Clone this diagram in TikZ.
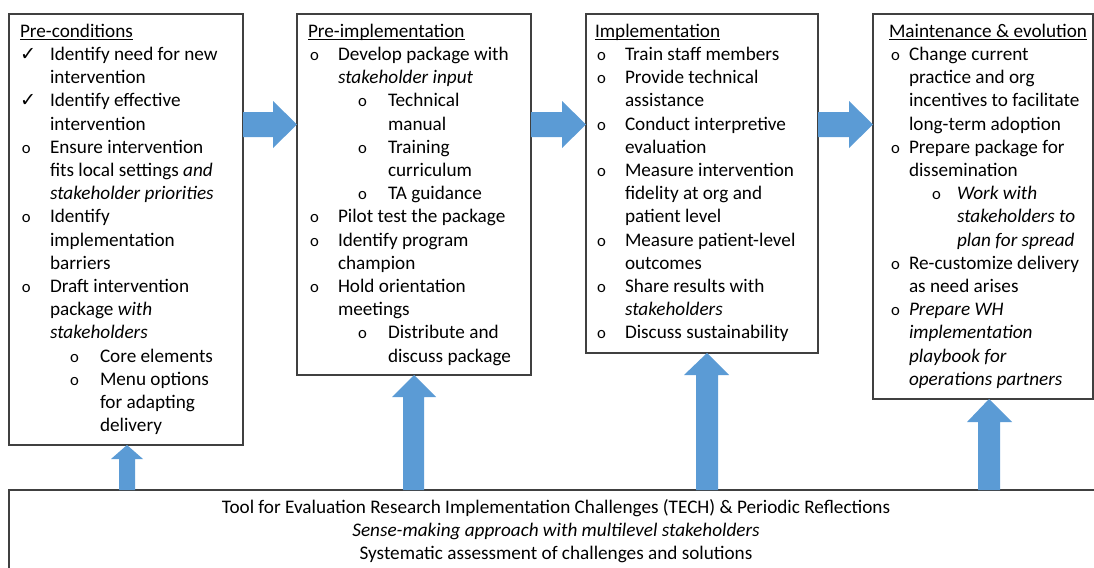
\documentclass[tikz,border=0pt]{standalone}
\usepackage{fontspec}
\setmainfont{Carlito}
\newfontfamily\symfont{DejaVu Sans}
\usetikzlibrary{calc,fit}
\definecolor{arrowblue}{HTML}{5B9BD5}
\definecolor{boxline}{HTML}{404040}
\newlength\indA \setlength\indA{22.5pt}
\newlength\indB \setlength\indB{37.5pt}
\newlength\indC \setlength\indC{60pt}
\newcommand{\mko}{{\fontsize{12.5}{12.5}\selectfont o}}
\newcommand{\bo}{\makebox[\indA][l]{\hspace{1.5pt}\mko}}
\newcommand{\bck}{\makebox[\indA][l]{\symfont ✓}}
\newcommand{\bc}{\hspace*{\indA}}
\newcommand{\sbo}{\hspace*{\indB}\makebox[\dimexpr\indC-\indB\relax][l]{\mko}}
\newcommand{\sbc}{\hspace*{\indC}}
\newcommand{\head}[1]{\strut\setbox0\hbox{#1}\rlap{\rule[-2.2pt]{\wd0}{0.7pt}}\box0}
\begin{document}
\begin{tikzpicture}[
    x=0.75pt, y=-0.75pt,
    stage/.style={draw=boxline, line width=1pt, inner sep=0pt, outer sep=0pt},
    txt/.style={anchor=north west, inner sep=0pt, outer sep=0pt, align=left,
        font=\fontsize{14.4}{17.4}\selectfont},
    flow/.style={fill=arrowblue},
    narrow/.code={\setlength\indA{15pt}\setlength\indB{32.25pt}\setlength\indC{51pt}}
]
\useasboundingbox (0,0) rectangle (1094,567);
\node[stage, fit={(9,14) (243,445)}] (pre) {};
\node[stage, fit={(297,14) (531,375)}] (preimp) {};
\node[stage, fit={(586,14) (818,353)}] (imp) {};
\node[stage, fit={(873,14) (1093,399)}] (maint) {};
\node[stage, fit={(9,490) (1110,590)}] (tech) {};

\node[txt] (pretxt) at ($(pre.north west)+(11,7)$) {\head{Pre-conditions}\\
    \bck Identify need for new\\
    \bc intervention\\
    \bck Identify effective\\
    \bc intervention\\
    \bo Ensure intervention\\
    \bc fits local settings \textit{and}\\
    \bc \textit{stakeholder priorities}\\
    \bo Identify\\
    \bc implementation\\
    \bc barriers\\
    \bo Draft intervention\\
    \bc package \textit{with}\\
    \bc \textit{stakeholders}\\
    \sbo Core elements\\
    \sbo Menu options\\
    \sbc for adapting\\
    \sbc delivery};
\node[txt] (preimptxt) at ($(preimp.north west)+(11,7)$) {\head{Pre-implementation}\\
    \bo Develop package with\\
    \bc \textit{stakeholder input}\\
    \sbo Technical\\
    \sbc manual\\
    \sbo Training\\
    \sbc curriculum\\
    \sbo TA guidance\\
    \bo Pilot test the package\\
    \bo Identify program\\
    \bc champion\\
    \bo Hold orientation\\
    \bc meetings\\
    \sbo Distribute and\\
    \sbc discuss package};
\node[txt] (imptxt) at ($(imp.north west)+(9,7)$) {\head{Implementation}\\
    \bo Train staff members\\
    \bo Provide technical\\
    \bc assistance\\
    \bo Conduct interpretive\\
    \bc evaluation\\
    \bo Measure intervention\\
    \bc fidelity at org and\\
    \bc patient level\\
    \bo Measure patient-level\\
    \bc outcomes\\
    \bo Share results with\\
    \bc \textit{stakeholders}\\
    \bo Discuss sustainability};
\node[txt, narrow] (mainttxt) at ($(maint.north west)+(16,7)$) {\head{Maintenance \& evolution}\\
    \bo Change current\\
    \bc practice and org\\
    \bc incentives to facilitate\\
    \bc long-term adoption\\
    \bo Prepare package for\\
    \bc dissemination\\
    \sbo \textit{Work with}\\
    \sbc \textit{stakeholders to}\\
    \sbc \textit{plan for spread}\\
    \bo Re-customize delivery\\
    \bc as need arises\\
    \bo \textit{Prepare WH}\\
    \bc \textit{implementation}\\
    \bc \textit{playbook for}\\
    \bc \textit{operations partners}};
\node[txt, anchor=north, align=center] (techtxt) at (556,497) {\strut Tool for Evaluation Research Implementation Challenges (TECH) \& Periodic Reflections\\
    \textit{Sense-making approach with multilevel stakeholders}\\
    Systematic assessment of challenges and solutions};

\fill[flow] (pre.east |- 0,112) -- ($(preimp.west |- 0,112)+(-24,0)$) -- ($(preimp.west |- 0,101)+(-24,0)$)
    -- (preimp.west |- 0,124.5) -- ($(preimp.west |- 0,148)+(-24,0)$) -- ($(preimp.west |- 0,137)+(-24,0)$)
    -- (pre.east |- 0,137) -- cycle;
\fill[flow] (preimp.east |- 0,112) -- ($(imp.west |- 0,112)+(-24,0)$) -- ($(imp.west |- 0,101)+(-24,0)$)
    -- (imp.west |- 0,124.5) -- ($(imp.west |- 0,148)+(-24,0)$) -- ($(imp.west |- 0,137)+(-24,0)$)
    -- (preimp.east |- 0,137) -- cycle;
\fill[flow] (imp.east |- 0,112) -- ($(maint.west |- 0,112)+(-24,0)$) -- ($(maint.west |- 0,101)+(-24,0)$)
    -- (maint.west |- 0,124.5) -- ($(maint.west |- 0,148)+(-24,0)$) -- ($(maint.west |- 0,137)+(-24,0)$)
    -- (imp.east |- 0,137) -- cycle;

\fill[flow] (tech.north -| 119,0) -- ($(pre.south -| 119,0)+(0,14)$) -- ($(pre.south -| 111,0)+(0,14)$)
    -- (pre.south -| 127,0) -- ($(pre.south -| 143,0)+(0,14)$) -- ($(pre.south -| 135,0)+(0,14)$)
    -- (tech.north -| 135,0) -- cycle;
\fill[flow] (tech.north -| 403,0) -- ($(preimp.south -| 403,0)+(0,22)$) -- ($(preimp.south -| 392,0)+(0,22)$)
    -- (preimp.south -| 414,0) -- ($(preimp.south -| 436,0)+(0,22)$) -- ($(preimp.south -| 424,0)+(0,22)$)
    -- (tech.north -| 424,0) -- cycle;
\fill[flow] (tech.north -| 696,0) -- ($(imp.south -| 696,0)+(0,22)$) -- ($(imp.south -| 684,0)+(0,22)$)
    -- (imp.south -| 707,0) -- ($(imp.south -| 729,0)+(0,22)$) -- ($(imp.south -| 718,0)+(0,22)$)
    -- (tech.north -| 718,0) -- cycle;
\fill[flow] (tech.north -| 978,0) -- ($(maint.south -| 978,0)+(0,23)$) -- ($(maint.south -| 967,0)+(0,23)$)
    -- (maint.south -| 989,0) -- ($(maint.south -| 1012,0)+(0,23)$) -- ($(maint.south -| 1000,0)+(0,23)$)
    -- (tech.north -| 1000,0) -- cycle;
\end{tikzpicture}
\end{document}
